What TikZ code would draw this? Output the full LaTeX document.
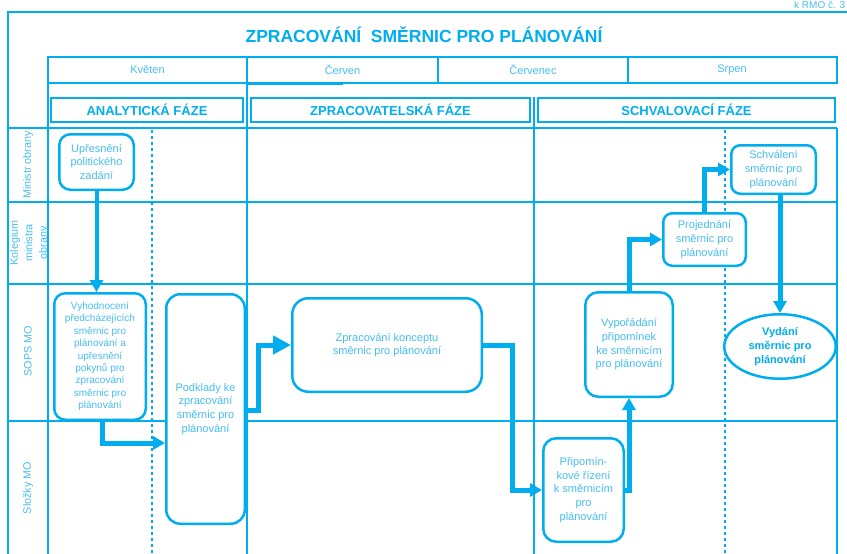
\documentclass[tikz,border=0pt]{standalone}
\usepackage{fontspec}
\setmainfont{Liberation Sans}
\usetikzlibrary{arrows.meta,shapes.geometric}
\definecolor{cy}{RGB}{0,174,239}
\definecolor{cytext}{RGB}{70,190,240}
\begin{document}
\begin{tikzpicture}[x=1pt,y=-1pt,
  lane/.style={draw=cy, line width=1.5pt},
  frame/.style={draw=cy, line width=2.5pt},
  dashline/.style={draw=cy, line width=1.5pt, dash pattern=on 3pt off 3pt},
  box/.style={draw=cy, line width=2.5pt, fill=white, rounded corners=11pt, text=cytext, align=center, inner sep=0pt, font=\fontsize{11}{13.7}\selectfont},
  endbox/.style={ellipse, draw=cy, line width=2.5pt, fill=white, text=cy, align=center, inner sep=0pt, font=\bfseries\fontsize{11}{14}\selectfont},
  flow/.style={draw=cy, line width=5pt, -{Triangle[length=12pt,width=13pt]}},
  phase/.style={draw=cy, line width=2pt, text=cy, inner sep=0pt, minimum height=24pt, font=\bfseries\fontsize{13}{15}\selectfont},
  month/.style={text=cytext, font=\fontsize{11}{12}\selectfont},
  lanelab/.style={text=cytext, rotate=90, align=center, font=\fontsize{10.8}{14.5}\selectfont},
]
\useasboundingbox (0,0) rectangle (847,554);
% outer frame
\draw[frame] (8,554) -- (8,12) -- (847,12);
\node[anchor=base west, text=cytext, font=\fontsize{10}{11}\selectfont, inner sep=0pt] (refno) at (794,8.5) {k RMO č. 3};
\node[text=cy, font=\bfseries\fontsize{17.5}{20}\selectfont] (title) at (424,35) {ZPRACOVÁNÍ\ \ SMĚRNIC PRO PLÁNOVÁNÍ};
% month row
\draw[lane] (48,57) rectangle (837,83);
\draw[lane] (438,57) -- (438,83);
\draw[lane] (628,57) -- (628,83);
\draw[lane] (247,84.5) -- (343,84.5);
\node[month] (m1) at (147.5,70) {Květen};
\node[month] (m2) at (342.5,70) {Červen};
\node[month] (m3) at (533,70) {Červenec};
\node[month] (m4) at (732,70) {Srpen};
% lanes grid
\draw[lane] (8,128) -- (837,128);
\draw[lane] (8,202) -- (837,202);
\draw[lane] (8,284) -- (837,284);
\draw[lane] (8,421) -- (837,421);
\draw[lane] (48,83) -- (48,554);
\draw[lane] (247,57) -- (247,554);
\draw[lane] (534,97) -- (534,554);
\draw[lane] (837,128) -- (837,554);
\draw[dashline] (152,130) -- (152,554);
\draw[dashline] (725,130) -- (725,554);
% phases
\node[phase, minimum width=192pt] (p1) at (147,110) {ANALYTICKÁ FÁZE};
\node[phase, minimum width=279pt] (p2) at (390.5,110) {ZPRACOVATELSKÁ FÁZE};
\node[phase, minimum width=297pt] (p3) at (686.5,110) {SCHVALOVACÍ FÁZE};
% lane labels
\node[lanelab] (l1) at (28,165) {Ministr obrany};
\node[lanelab] (l2) at (29.5,243) {Kolegium\\ministra\\obrany};
\node[lanelab] (l3) at (28,351) {SOPS MO};
\node[lanelab] (l4) at (28,488) {Složky MO};
% process boxes
\node[box, minimum width=74.5pt, minimum height=55.5pt] (n1) at (96.5,162) {Upřesnění\\politického\\zadání};
\node[box, minimum width=91.5pt, minimum height=126.5pt, font=\fontsize{10}{12.4}\selectfont] (n2) at (100,356.5) {Vyhodnocení\\předcházejících\\směrnic pro\\plánování a\\upřesnění\\pokynů pro\\zpracování\\směrnic pro\\plánování};
\node[box, minimum width=78.5pt, minimum height=229.5pt, rounded corners=14pt, font=\fontsize{11}{13.7}\selectfont] (n3) at (205.5,409) {Podklady ke\\zpracování\\směrnic pro\\plánování};
\node[box, minimum width=189.5pt, minimum height=93.5pt, rounded corners=16pt] (n4) at (387,345) {Zpracování konceptu\\směrnic pro plánování};
\node[box, minimum width=80.5pt, minimum height=103.5pt, rounded corners=13pt] (n5) at (583.5,490) {Připomín-\\kové řízení\\k směrnicím\\pro\\plánování};
\node[box, minimum width=87.5pt, minimum height=104.5pt, rounded corners=13pt] (n6) at (629,344.5) {Vypořádání\\připomínek\\ke směrnicím\\pro plánování};
\node[box, minimum width=82.5pt, minimum height=52.5pt, rounded corners=9pt] (n7) at (704.5,239.5) {Projednání\\směrnic pro\\plánování};
\node[box, minimum width=84.5pt, minimum height=48.5pt, rounded corners=9pt] (n8) at (773.5,169.5) {Schválení\\směrnic pro\\plánování};
\node[endbox, minimum width=111.5pt, minimum height=64.5pt] (n9) at (780,346.5) {Vydání\\směrnic pro\\plánování};
% connectors
\coordinate (bt) at (102,443);
\coordinate (ct) at (258,410);
\coordinate (dt) at (512,0);
\draw[flow, line width=4pt] (n1.south) -- (n1.south |- n2.north);
\draw[flow] (n2.south -| bt) |- (n3.west |- bt);
\draw[flow, -{Triangle[length=18pt,width=18pt]}] (n3.east |- ct) -- (ct) |- (n4.west);
\draw[flow] (n4.east) -- (n4.east -| dt) -- (dt |- n5.west) -- (n5.west);
\draw[flow] (n5.east) -| (n6.south);
\draw[flow] (n6.north) |- (n7.west);
\draw[flow] (n7.north) |- (n8.west);
\draw[flow] (n8.south -| n9.north) -- (n9.north);
\end{tikzpicture}
\end{document}
